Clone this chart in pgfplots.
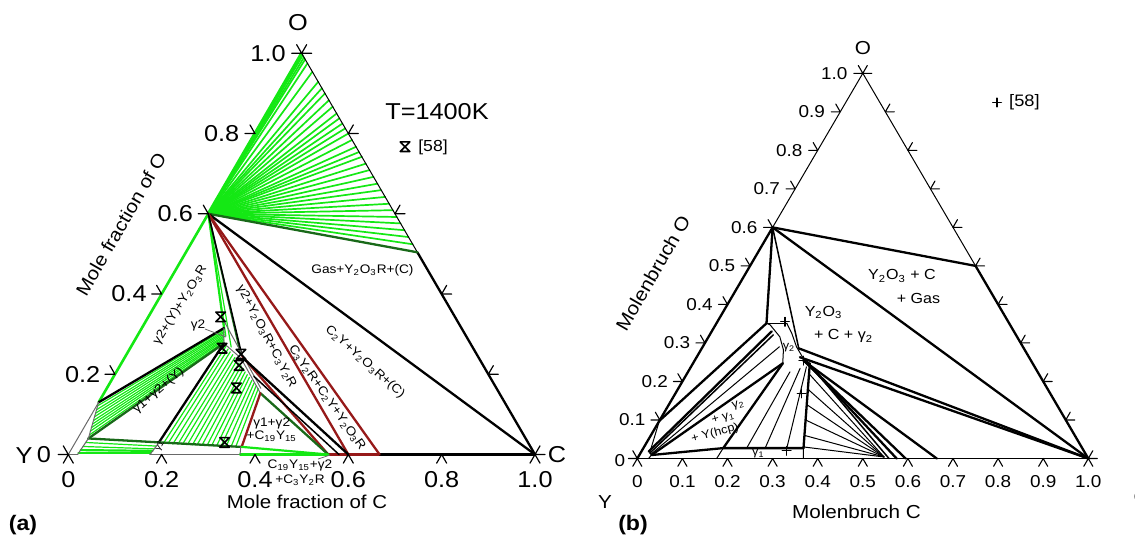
\documentclass[border=0pt]{standalone}
\usepackage{fontspec}
\setmainfont{Liberation Sans}[FakeStretch=1.1]
\usepackage{pgfplots}
\pgfplotsset{compat=1.18}
\definecolor{gr}{RGB}{20,232,20}
\definecolor{dgr}{RGB}{25,105,25}
\definecolor{dred}{RGB}{150,25,25}
\definecolor{gry}{RGB}{105,105,105}
\pgfdeclareplotmark{tkB}{\pgfpathmoveto{\pgfpointpolar{240}{\pgfplotmarksize}}\pgfpathlineto{\pgfpointorigin}\pgfpathlineto{\pgfpointpolar{300}{\pgfplotmarksize}}\pgfusepathqstroke}
\pgfdeclareplotmark{tkL}{\pgfpathmoveto{\pgfpointpolar{180}{\pgfplotmarksize}}\pgfpathlineto{\pgfpointorigin}\pgfpathlineto{\pgfpointpolar{120}{\pgfplotmarksize}}\pgfusepathqstroke}
\pgfdeclareplotmark{tkR}{\pgfpathmoveto{\pgfpointpolar{0}{\pgfplotmarksize}}\pgfpathlineto{\pgfpointorigin}\pgfpathlineto{\pgfpointpolar{60}{\pgfplotmarksize}}\pgfusepathqstroke}
\pgfdeclareplotmark{hg}{\pgfpathmoveto{\pgfqpoint{-\pgfplotmarksize}{\pgfplotmarksize}}\pgfpathlineto{\pgfqpoint{\pgfplotmarksize}{\pgfplotmarksize}}\pgfpathlineto{\pgfqpoint{-\pgfplotmarksize}{-\pgfplotmarksize}}\pgfpathlineto{\pgfqpoint{\pgfplotmarksize}{-\pgfplotmarksize}}\pgfpathclose\pgfusepathqstroke}
\pgfplotsset{
  table/tern/.style={/pgfplots/table/row sep=\\, /pgfplots/table/x expr=\thisrow{c}+0.5*\thisrow{o}, /pgfplots/table/y=o},
  tern axis/.style={scale only axis, anchor=south west, xmin=0, xmax=1, ymin=0, ymax=1, hide axis, clip=false},
  every axis plot/.append style={line join=round, line cap=round},
  gfan/.style={draw=gr, line width=0.85pt},
  ghat/.style={draw=gr, line width=0.6pt},
  gthin/.style={draw=gry, line width=0.5pt},
  bthk/.style={draw=black, line width=1.15pt},
  bthn/.style={draw=black, line width=0.5pt},
  bmed/.style={draw=black, line width=0.75pt},
  rthk/.style={draw=dred, line width=1.15pt},
  dthk/.style={draw=dgr, line width=1.15pt},
}
\newcommand\seg[5]{\addplot[#1] table[tern]{c o\\ #2 #3\\ #4 #5\\};}
\newcommand\fA{\fontsize{11.5pt}{13pt}\selectfont}
\newcommand\fAt{\fontsize{9.3pt}{11pt}\selectfont}
\newcommand\fAs{\fontsize{6.2pt}{6.8pt}\selectfont}
\newcommand\fB{\fontsize{8.6pt}{10pt}\selectfont}
\newcommand\fBt{\fontsize{9.4pt}{11pt}\selectfont}
\newcommand\fBs{\fontsize{7.3pt}{8pt}\selectfont}
\newcommand\fBx{\fontsize{5.8pt}{6.5pt}\selectfont}
\begin{document}
\begin{tikzpicture}
\useasboundingbox (0,0) rectangle (567.5pt,268.5pt);
% ================= panel (a) =================
\begin{axis}[tern axis, at={(34.15pt,41.25pt)}, width=233.35pt, height=200.6pt]
% gas fan
\seg{gfan}{0}{0.6}{0.005}{0.995}
\seg{gfan}{0}{0.6}{0.010}{0.990}
\seg{gfan}{0}{0.6}{0.015}{0.985}
\seg{gfan}{0}{0.6}{0.025}{0.975}
\seg{gfan}{0}{0.6}{0.046}{0.954}
\seg{gfan}{0}{0.6}{0.071}{0.929}
\seg{gfan}{0}{0.6}{0.087}{0.913}
\seg{gfan}{0}{0.6}{0.100}{0.900}
\seg{gfan}{0}{0.6}{0.117}{0.883}
\seg{gfan}{0}{0.6}{0.133}{0.867}
\seg{gfan}{0}{0.6}{0.150}{0.850}
\seg{gfan}{0}{0.6}{0.162}{0.838}
\seg{gfan}{0}{0.6}{0.175}{0.825}
\seg{gfan}{0}{0.6}{0.187}{0.813}
\seg{gfan}{0}{0.6}{0.200}{0.800}
\seg{gfan}{0}{0.6}{0.216}{0.784}
\seg{gfan}{0}{0.6}{0.233}{0.767}
\seg{gfan}{0}{0.6}{0.246}{0.754}
\seg{gfan}{0}{0.6}{0.258}{0.742}
\seg{gfan}{0}{0.6}{0.275}{0.725}
\seg{gfan}{0}{0.6}{0.291}{0.709}
\seg{gfan}{0}{0.6}{0.308}{0.692}
\seg{gfan}{0}{0.6}{0.325}{0.675}
\seg{gfan}{0}{0.6}{0.341}{0.659}
\seg{gfan}{0}{0.6}{0.358}{0.642}
\seg{gfan}{0}{0.6}{0.375}{0.625}
\seg{gfan}{0}{0.6}{0.391}{0.609}
\seg{gfan}{0}{0.6}{0.408}{0.592}
\seg{gfan}{0}{0.6}{0.424}{0.576}
\seg{gfan}{0}{0.6}{0.441}{0.559}
\seg{gfan}{0}{0.6}{0.458}{0.542}
\seg{gfan}{0}{0.6}{0.476}{0.524}
% edges
\seg{draw=gr, line width=1.6pt}{0}{0.6}{0}{1}
\seg{bthn}{0}{1}{0.496}{0.504}
\seg{bthk}{0.496}{0.504}{1}{0}
\seg{dthk}{0}{0.6}{0.496}{0.504}
\seg{bthk}{0}{0.6}{1}{0}
\seg{gthin}{0}{0}{0.02}{0}
\seg{gthin}{0.175}{0}{0.368}{0}
\seg{draw=gr, line width=1.1pt}{0.02}{0.003}{0.175}{0.003}
\seg{draw=gr, line width=1.1pt}{0.021}{0.011}{0.176}{0.009}
\seg{draw=gr, line width=1.1pt}{0.368}{0}{0.557}{0}
\seg{rthk}{0.557}{0}{0.667}{0}
\seg{bthk}{0.667}{0}{1}{0}
\seg{gthin}{0}{0}{0}{0.13}
\seg{draw=gr, line width=1.3pt}{0}{0.13}{0}{0.6}
% red triangle from Y2O3
\seg{rthk}{0}{0.6}{0.6}{0}
\seg{rthk}{0}{0.6}{0.667}{0}
% Y2O3 - gamma2 ties
\seg{draw=gr, line width=1pt}{0}{0.6}{0.176}{0.315}
\seg{ghat}{0}{0.6}{0.19}{0.295}
\seg{ghat}{0}{0.6}{0.215}{0.268}
\seg{draw=dgr, line width=0.9pt}{0}{0.6}{0.243}{0.252}
\seg{bmed}{0}{0.6}{0.25}{0.245}
% gamma2 + (Y) ties
\seg{ghat}{0.002}{0.121}{0.178}{0.311}
\seg{ghat}{0.005}{0.112}{0.180}{0.307}
\seg{ghat}{0.007}{0.103}{0.182}{0.304}
\seg{ghat}{0.009}{0.094}{0.184}{0.300}
\seg{ghat}{0.012}{0.085}{0.186}{0.296}
\seg{ghat}{0.014}{0.076}{0.187}{0.292}
\seg{ghat}{0.016}{0.067}{0.189}{0.288}
\seg{ghat}{0.018}{0.058}{0.191}{0.285}
\seg{ghat}{0.021}{0.049}{0.193}{0.281}
% gamma1 + gamma2 ties
\seg{ghat}{0.190}{0.028}{0.203}{0.270}
\seg{ghat}{0.200}{0.027}{0.211}{0.263}
\seg{ghat}{0.211}{0.026}{0.219}{0.256}
\seg{ghat}{0.222}{0.026}{0.228}{0.249}
\seg{ghat}{0.232}{0.025}{0.236}{0.242}
\seg{ghat}{0.243}{0.025}{0.244}{0.235}
\seg{ghat}{0.254}{0.024}{0.252}{0.228}
\seg{ghat}{0.264}{0.024}{0.260}{0.221}
\seg{ghat}{0.275}{0.023}{0.268}{0.214}
\seg{ghat}{0.286}{0.023}{0.276}{0.206}
\seg{ghat}{0.296}{0.022}{0.284}{0.199}
\seg{ghat}{0.307}{0.022}{0.292}{0.192}
\seg{ghat}{0.317}{0.021}{0.301}{0.185}
\seg{ghat}{0.328}{0.021}{0.309}{0.178}
\seg{ghat}{0.339}{0.020}{0.317}{0.171}
\seg{ghat}{0.349}{0.020}{0.325}{0.164}
% gamma1 + (Y) ties
\seg{ghat}{0.0215}{0.02}{0.177}{0.014}
\seg{ghat}{0.022}{0.03}{0.178}{0.021}
% boundaries
\seg{bthk}{0}{0.13}{0.176}{0.315}
\seg{dthk}{0.023}{0.04}{0.195}{0.277}
\seg{bthk}{0.179}{0.028}{0.195}{0.277}
\seg{dthk}{0.023}{0.04}{0.36}{0.019}
\addplot[gthin] table[tern]{c o\\ 0 0.13\\ 0.023 0.04\\ 0.02 0\\};
\seg{gthin}{0.175}{0}{0.179}{0.028}
\seg{gthin}{0.368}{0}{0.36}{0.019}
\seg{gthin}{0.165}{0.335}{0.33}{0.165}
\addplot[gthin] table[tern]{c o\\ 0.176 0.315\\ 0.195 0.277\\ 0.25 0.24\\ 0.335 0.153\\};
\seg{rthk}{0.25}{0.245}{0.557}{0}
\seg{bthk}{0.255}{0.24}{0.6}{0}
\seg{bmed}{0.3}{0.195}{0.58}{0}
\seg{dthk}{0.335}{0.153}{0.557}{0}
\seg{rthk}{0.335}{0.153}{0.362}{0.019}
\seg{draw=gr, line width=1.1pt}{0.362}{0.019}{0.557}{0}
% experimental points [58]
\addplot[only marks, mark=hg, mark size=2.4pt, mark options={black, line width=0.8pt}] table[tern]{c o\\ 0.155 0.343\\ 0.197 0.265\\ 0.245 0.250\\ 0.255 0.222\\ 0.277 0.166\\ 0.320 0.030\\};
\addplot[only marks, mark=hg, mark size=2.4pt, mark options={black, line width=0.8pt}] coordinates {(0.7215,0.7672)};
% ticks
\addplot[only marks, mark=tkB, mark size=5pt, mark options={black, line width=0.6pt}] table[tern]{c o\\ 0 0\\ 0.2 0\\ 0.4 0\\ 0.6 0\\ 0.8 0\\ 1 0\\};
\addplot[only marks, mark=tkL, mark size=5pt, mark options={black, line width=0.6pt}] table[tern]{c o\\ 0 0\\ 0 0.2\\ 0 0.4\\ 0 0.6\\ 0 0.8\\ 0 1\\};
\addplot[only marks, mark=tkR, mark size=5pt, mark options={black, line width=0.6pt}] table[tern]{c o\\ 1 0\\ 0.8 0.2\\ 0.6 0.4\\ 0.4 0.6\\ 0.2 0.8\\ 0 1\\};
\end{axis}
% ================= panel (b) =================
\begin{axis}[tern axis, at={(318.65pt,39.25pt)}, width=225.5pt, height=192.6pt]
\seg{bthk}{0}{0}{0}{0.6}
\seg{draw=black, line width=0.9pt}{0}{0}{1}{0}
\seg{bthn}{0}{0.6}{0}{1}
\seg{bthn}{0}{1}{0.5}{0.5}
\seg{bthk}{0.5}{0.5}{1}{0}
\seg{bthk}{0}{0.6}{0.5}{0.5}
\seg{bthk}{0}{0.6}{1}{0}
\seg{bthk}{0}{0.6}{0.111}{0.351}
\seg{bmed}{0}{0.6}{0.215}{0.286}
\seg{bthn}{0.111}{0.351}{0.156}{0.351}
\addplot[bthn] table[tern]{c o\\ 0.111 0.351\\ 0.121 0.347\\ 0.158 0.316\\ 0.183 0.282\\ 0.199 0.247\\};
\addplot[bthn] table[tern]{c o\\ 0.156 0.351\\ 0.180 0.325\\ 0.208 0.290\\ 0.238 0.260\\ 0.259 0.247\\};
\seg{bthk}{0.111}{0.351}{0}{0.098}
\seg{bthk}{0.133}{0.330}{0.016}{0.018}
\seg{bmed}{0.141}{0.321}{0.021}{0.014}
\seg{bthn}{0.170}{0.290}{0.025}{0.012}
\seg{bthk}{0.199}{0.247}{0.027}{0.009}
\seg{bthk}{0.199}{0.247}{0.177}{0.027}
\addplot[bthk] table[tern]{c o\\ 0.027 0.009\\ 0.177 0.027\\ 0.355 0.027\\};
\addplot[bthn] table[tern]{c o\\ 0 0.098\\ 0.02 0.015\\ 0.027 0.009\\ 0.025 0\\};
\seg{bthn}{0.176}{0}{0.177}{0.027}
\seg{bthn}{0.368}{0}{0.355}{0.027}
\seg{bthk}{0.259}{0.247}{0.355}{0.027}
\seg{bthn}{0.229}{0.027}{0.226}{0.225}
\seg{bthn}{0.270}{0.027}{0.244}{0.234}
\seg{bthn}{0.318}{0.027}{0.256}{0.238}
\seg{bthk}{0.215}{0.286}{1}{0}
\seg{bthk}{0.229}{0.263}{1}{0}
\seg{bthk}{0.240}{0.255}{0.664}{0}
\seg{bthk}{0.245}{0.252}{0.595}{0}
\seg{bthk}{0.250}{0.250}{0.575}{0}
\seg{bmed}{0.255}{0.248}{0.558}{0}
\seg{bthn}{0.2708}{0.22}{0.545}{0.004}
\seg{bthn}{0.2882}{0.18}{0.545}{0.004}
\seg{bthn}{0.3057}{0.14}{0.545}{0.004}
\seg{bthn}{0.3232}{0.10}{0.545}{0.004}
\seg{bthn}{0.3406}{0.06}{0.545}{0.004}
\seg{bthn}{0.3537}{0.03}{0.545}{0.004}
\addplot[only marks, mark=+, mark size=2.2pt, mark options={black, line width=0.6pt}] table[tern]{c o\\ 0.150 0.355\\ 0.280 0.169\\ 0.321 0.020\\ 0.241 0.254\\};
\addplot[only marks, mark=+, mark size=2.2pt, mark options={black, line width=0.6pt}] coordinates {(0.7976,0.9242)};
\addplot[only marks, mark=tkB, mark size=4.5pt, mark options={black, line width=0.55pt}] table[tern]{c o\\ 0 0\\ 0.1 0\\ 0.2 0\\ 0.3 0\\ 0.4 0\\ 0.5 0\\ 0.6 0\\ 0.7 0\\ 0.8 0\\ 0.9 0\\ 1 0\\};
\addplot[only marks, mark=tkL, mark size=4.5pt, mark options={black, line width=0.55pt}] table[tern]{c o\\ 0 0\\ 0 0.1\\ 0 0.2\\ 0 0.3\\ 0 0.4\\ 0 0.5\\ 0 0.6\\ 0 0.7\\ 0 0.8\\ 0 0.9\\ 0 1\\};
\addplot[only marks, mark=tkR, mark size=4.5pt, mark options={black, line width=0.55pt}] table[tern]{c o\\ 1 0\\ 0.9 0.1\\ 0.8 0.2\\ 0.7 0.3\\ 0.6 0.4\\ 0.5 0.5\\ 0.4 0.6\\ 0.3 0.7\\ 0.2 0.8\\ 0.1 0.9\\ 0 1\\};
\end{axis}
% ================= texts (pixel coordinates) =================
\begin{scope}[shift={(0,268.5pt)}, x=0.5pt, y=-0.5pt, every node/.style={inner sep=0pt}]
% panel (a)
\foreach \v/\x in {0/68.3,0.2/161.6,0.4/255,0.6/348.3,0.8/441.7,1.0/535} \node[font=\fA] at (\x,480) {\v};
\node[font=\fA] at (44,455) {0};
\foreach \v/\x/\y in {0.2/100.6/374.3,0.4/147/294,0.6/193.3/213.8,0.8/239.7/133.5,1.0/286/53.3} \node[font=\fA, anchor=east] at (\x,\y) {\v};
\node[font=\fA] at (24,456) {Y};
\node[font=\fA] at (557,455) {C};
\node[font=\fA] at (298,23) {O};
\node[font=\fAt] at (307,502) {Mole fraction of C};
\node[font=\fAt, rotate=60] at (121,224) {Mole fraction of O};
\node[font=\fA] at (437,112) {T=1400K};
\node[font=\fontsize{8pt}{9pt}\selectfont] at (433,147) {[58]};
\node[font=\bfseries\fontsize{10.5pt}{12pt}\selectfont] at (23,525) {(a)};
\node[font=\fAs] at (362.5,270) {Gas+Y\textsubscript{2}O\textsubscript{3}R+(C)};
\node[font=\fAs, rotate=-42] at (365,362) {C\textsubscript{2}Y+Y\textsubscript{2}O\textsubscript{3}R+(C)};
\node[font=\fAs, rotate=-55] at (327,398) {C\textsubscript{3}Y\textsubscript{2}R+C\textsubscript{2}Y+Y\textsubscript{2}O\textsubscript{3}R};
\node[font=\fAs, rotate=-62] at (266.3,336.7) {γ2+Y\textsubscript{2}O\textsubscript{3}R+C\textsubscript{3}Y\textsubscript{2}R};
\node[font=\fAs, rotate=58] at (180.2,305.3) {γ2+(Y)+Y\textsubscript{2}O\textsubscript{3}R};
\node[font=\fAs, rotate=41] at (158.4,390.6) {γ1+γ2+(Y)};
\node[font=\fAs] at (198,325) {γ2};
\draw[gry, line width=0.4pt] (205,329) -- (226,337);
\node[font=\fontsize{4.5pt}{5pt}\selectfont, rotate=60] at (160,446) {γ1};
\node[font=\fAs] at (271.7,423.3) {γ1+γ2};
\node[font=\fAs] at (271.7,436.7) {+C\textsubscript{19}Y\textsubscript{15}};
\node[font=\fAs] at (300,465) {C\textsubscript{19}Y\textsubscript{15}+γ2};
\node[font=\fAs] at (300,480) {+C\textsubscript{3}Y\textsubscript{2}R};
\draw[gry, line width=0.4pt] (318,459) -- (330,455);
% panel (b)
\foreach \v/\x in {0/637.3,0.1/682.4,0.2/727.5,0.3/772.6,0.4/817.7,0.5/862.8,0.6/907.9,0.7/953,0.8/998.1,0.9/1043.2,1.0/1088.3} \node[font=\fB] at (\x,481.5) {\v};
\node[font=\fB] at (620,461) {0};
\foreach \v/\x/\y in {0.1/659.7/420,0.2/682.2/381.5,0.3/704.6/342.9,0.4/727.1/304.4,0.5/749.5/265.9,0.6/771.9/227.4,0.7/794.4/188.9,0.8/816.8/150.3,0.9/839.3/111.8,1.0/861.7/73.3} \node[font=\fB, anchor=east] at (\x-14,\y) {\v};
\node[font=\fBt] at (605,502) {Y};
\node[font=\fBt] at (1141,497) {C};
\node[font=\fBt] at (863,48) {O};
\node[font=\fBt] at (856.4,511.8) {Molenbruch C};
\node[font=\fBt, rotate=60] at (653,273) {Molenbruch O};
\node[font=\fontsize{8.3pt}{9pt}\selectfont] at (1024.4,102.5) {[58]};
\node[font=\bfseries\fontsize{10.5pt}{12pt}\selectfont] at (633,525) {(b)};
\node[font=\fBs] at (902,276) {Y\textsubscript{2}O\textsubscript{3} + C};
\node[font=\fBs] at (918.5,298.6) {+ Gas};
\node[font=\fBs] at (823.6,312.3) {Y\textsubscript{2}O\textsubscript{3}};
\node[font=\fBs] at (843.6,336.4) {+ C + γ\textsubscript{2}};
\node[font=\fBx] at (789,348) {γ\textsubscript{2}};
\node[font=\fBx, rotate=15] at (738.3,405) {γ\textsubscript{2}};
\node[font=\fBx, rotate=15] at (723.3,418.3) {+ γ\textsubscript{1}};
\node[font=\fBx, rotate=15] at (715,433.3) {+ Y(hcp)};
\node[font=\fBx] at (758.3,453.3) {γ\textsubscript{1}};
\end{scope}
\end{tikzpicture}
\end{document}
